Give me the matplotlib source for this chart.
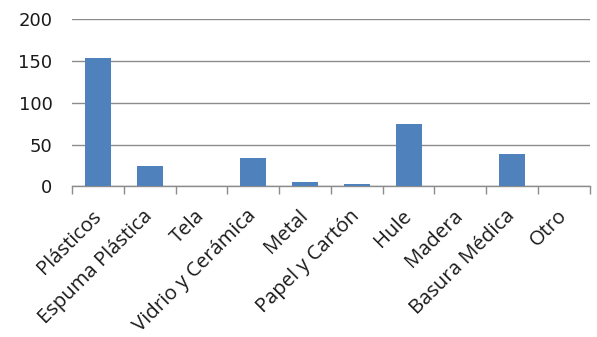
import matplotlib
matplotlib.use("Agg")
import matplotlib.pyplot as plt
import numpy as np

categories = ["Plásticos", "Espuma Plástica", "Tela", "Vidrio y Cerámica", "Metal",
              "Papel y Cartón", "Hule", "Madera", "Basura Médica", "Otro"]
values = [153, 24, 0, 34, 5, 3, 75, 0, 39, 0]
y_ticks = [0, 50, 100, 150, 200]

plt.rcParams["font.family"] = ["Open Sans", "DejaVu Sans"]

fig = plt.figure(figsize=(5.97, 3.37), dpi=100)
ax = fig.add_axes([0.1206, 0.447, 0.8674, 0.4966])

x = np.arange(len(categories))
ax.bar(x, values, width=0.5, color="#4F81BD", zorder=3)

ax.set_xlim(-0.5, len(categories) - 0.5)
ax.set_ylim(0, 200)
ax.set_yticks(y_ticks)
ax.set_yticklabels([str(v) for v in y_ticks], family="DejaVu Sans")
ax.grid(axis="y", color="#8c8c8c", linewidth=1.0, zorder=0)

for s in ["left", "top", "right"]:
    ax.spines[s].set_visible(False)
ax.spines["bottom"].set_color("#8c8c8c")
ax.spines["bottom"].set_linewidth(1.0)

# category separators as tick marks on the x axis
ax.set_xticks(np.arange(-0.5, len(categories)), minor=False)
ax.set_xticklabels([])
ax.tick_params(axis="x", length=6, color="#8c8c8c", width=1.0)
ax.tick_params(axis="y", length=0, pad=14, labelsize=13, labelcolor="#1a1a1a")

for xi, name in zip(x, categories):
    ax.text(xi + 0.0, -0.16, name, transform=ax.get_xaxis_transform(),
            rotation=45, rotation_mode="anchor", ha="right", va="center",
            fontsize=14.6, color="#1a1a1a")

fig.savefig("out.png", dpi=100)
